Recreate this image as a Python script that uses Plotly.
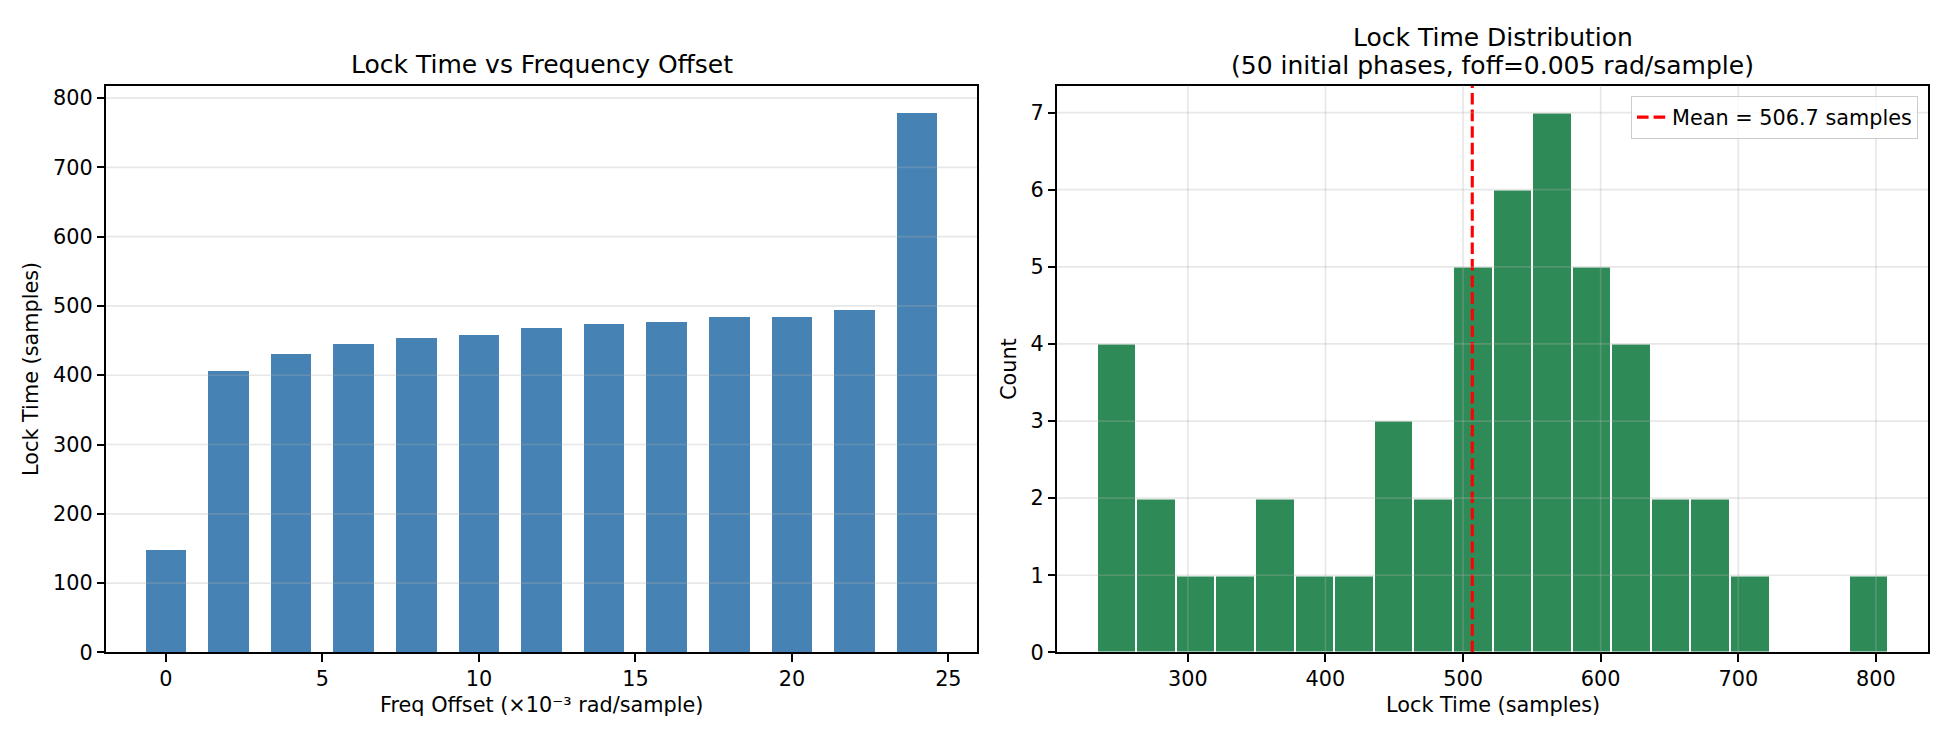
import plotly.graph_objects as go

# ---------------- data ----------------
freq_offsets = [0, 2, 4, 6, 8, 10, 12, 14, 16, 18, 20, 22, 24]
lock_times = [148, 407, 431, 445, 455, 458, 468, 474, 478, 484, 485, 494, 779]

hist_bin_start = 233.7
hist_bin_width = 28.77
hist_counts = [4, 2, 1, 1, 2, 1, 1, 3, 2, 5, 6, 7, 5, 4, 2, 2, 1, 0, 0, 1]
mean_lock = 506.7

left_xticks = [0, 5, 10, 15, 20, 25]
left_yticks = [0, 100, 200, 300, 400, 500, 600, 700, 800]
right_xticks = [300, 400, 500, 600, 700, 800]
right_yticks = [0, 1, 2, 3, 4, 5, 6, 7]

left_title = "Lock Time vs Frequency Offset"
right_title_1 = "Lock Time Distribution"
right_title_2 = "(50 initial phases, foff=0.005 rad/sample)"
left_xlabel = "Freq Offset (×10⁻³ rad/sample)"
left_ylabel = "Lock Time (samples)"
right_xlabel = "Lock Time (samples)"
right_ylabel = "Count"
mean_label = f"Mean = {mean_lock} samples"

# ---------------- geometry ----------------
W, H = 1950, 750
FONT = "DejaVu Sans"
FS = 20.8
TFS = 25
L_x0, L_x1 = 106, 977
R_x0, R_x1 = 1057, 1928
Y_top, Y_bot = 87, 663

def px(x):
    return x / W

def py(y):
    return 1 - y / H

bar_width = 1.3
left_xrange = [-0.65 - 0.05 * (24 + 1.3), 24.65 + 0.05 * (24 + 1.3)]
left_yrange = [0, max(lock_times) * 1.05]
hist_end = hist_bin_start + hist_bin_width * len(hist_counts)
span = hist_end - hist_bin_start
right_xrange = [hist_bin_start - 0.05 * span, hist_end + 0.05 * span]
right_yrange = [0, max(hist_counts) * 1.05]

centers = [hist_bin_start + (i + 0.5) * hist_bin_width for i in range(len(hist_counts))]

fig = go.Figure()
fig.add_trace(go.Bar(
    x=freq_offsets, y=lock_times, width=bar_width,
    marker=dict(color="#4682B4", line=dict(width=0)),
    xaxis="x", yaxis="y", showlegend=False,
))
fig.add_trace(go.Bar(
    x=centers, y=hist_counts, width=hist_bin_width,
    marker=dict(color="#2E8B57", line=dict(color="white", width=2)),
    xaxis="x2", yaxis="y2", showlegend=False,
))
fig.add_trace(go.Scatter(
    x=[mean_lock, mean_lock], y=[right_yrange[0], right_yrange[1]],
    mode="lines", line=dict(color="red", width=3.1, dash="11.6px,5px"),
    xaxis="x2", yaxis="y2", name=mean_label, showlegend=True,
))

grid_col = "rgba(176,176,176,0.3)"
shapes = []
for v in left_yticks[1:]:
    shapes.append(dict(type="line", xref="x domain", yref="y", x0=0, x1=1, y0=v, y1=v,
                       line=dict(color=grid_col, width=1.67), layer="above"))
for v in right_yticks[1:]:
    shapes.append(dict(type="line", xref="x2 domain", yref="y2", x0=0, x1=1, y0=v, y1=v,
                       line=dict(color=grid_col, width=1.67), layer="above"))
for v in right_xticks:
    shapes.append(dict(type="line", xref="x2", yref="y2 domain", x0=v, x1=v, y0=0, y1=1,
                       line=dict(color=grid_col, width=1.67), layer="above"))

axis_common = dict(
    showline=True, linecolor="black", linewidth=1.67, mirror=True,
    ticks="outside", ticklen=7.3, tickwidth=1.67, tickcolor="black",
    showgrid=False, zeroline=False, layer="above traces",
    tickfont=dict(family=FONT, size=FS, color="black"),
)

fig.update_layout(
    width=W, height=H,
    margin=dict(l=0, r=0, t=0, b=0),
    paper_bgcolor="white", plot_bgcolor="white",
    font=dict(family=FONT, size=FS, color="black"),
    bargap=0,
    xaxis=dict(domain=[px(L_x0), px(L_x1)], range=left_xrange, tickvals=left_xticks,
               anchor="y", **axis_common),
    yaxis=dict(domain=[py(Y_bot), py(Y_top)], range=left_yrange, tickvals=left_yticks,
               anchor="x", **axis_common),
    xaxis2=dict(domain=[px(R_x0), px(R_x1)], range=right_xrange, tickvals=right_xticks,
                anchor="y2", **axis_common),
    yaxis2=dict(domain=[py(Y_bot), py(Y_top)], range=right_yrange, tickvals=right_yticks,
                anchor="x2", **axis_common),
    shapes=shapes,
    legend=dict(
        x=px(1918), y=py(97.7), xanchor="right", yanchor="top",
        bgcolor="rgba(255,255,255,0.8)", bordercolor="#cccccc", borderwidth=1,
        font=dict(family=FONT, size=FS, color="black"),
    ),
    showlegend=True,
)

ann = []
def text(x, y, s, size=FS, angle=0):
    ann.append(dict(x=px(x), y=py(y), xref="paper", yref="paper", text=s, showarrow=False,
                    xanchor="center", yanchor="middle", textangle=angle,
                    font=dict(family=FONT, size=size, color="black")))

text((L_x0 + L_x1) / 2, 66, left_title, TFS)
text((R_x0 + R_x1) / 2, 38.5, right_title_1, TFS)
text((R_x0 + R_x1) / 2, 67, right_title_2, TFS)
text((L_x0 + L_x1) / 2, 716, left_xlabel)
text((R_x0 + R_x1) / 2, 716, right_xlabel)
text(31, (Y_top + Y_bot) / 2, left_ylabel, angle=-90)
text(1009, (Y_top + Y_bot) / 2, right_ylabel, angle=-90)
fig.update_layout(annotations=ann)

fig.write_html("out.html", config={"displayModeBar": False},
               post_script="document.body.style.margin='0';")
